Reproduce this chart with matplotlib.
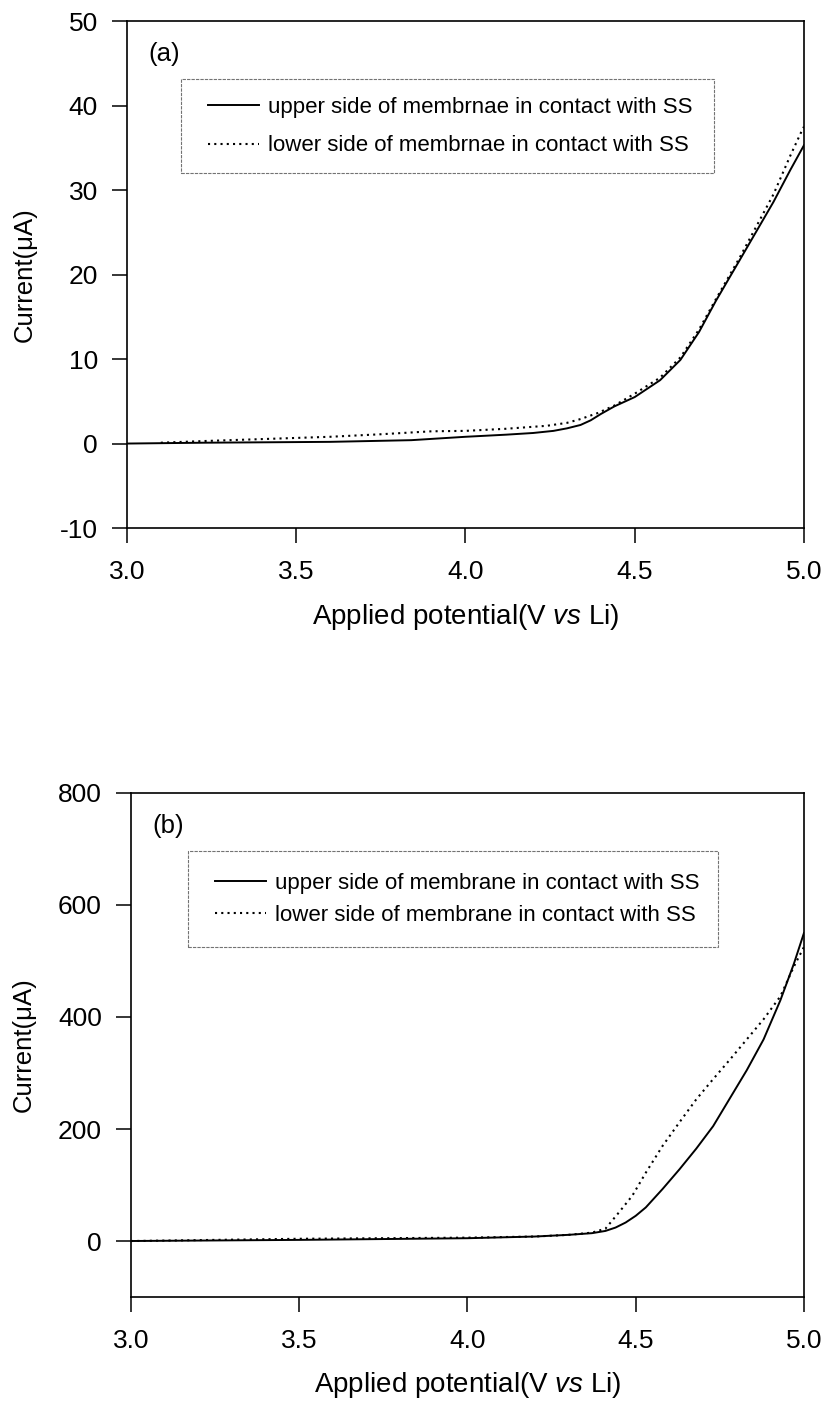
import matplotlib
matplotlib.use('Agg')
from matplotlib import pyplot as plt
from matplotlib.patches import Rectangle

plt.rcParams['font.family'] = ['Liberation Sans', 'DejaVu Sans']
plt.rcParams['mathtext.fontset'] = 'custom'
plt.rcParams['mathtext.rm'] = 'Liberation Sans'
plt.rcParams['mathtext.it'] = 'Liberation Sans:italic'
plt.rcParams['axes.unicode_minus'] = False

# (a) membrane 1, current in uA vs potential in V
v_a_upper = [3.0, 3.23, 3.6, 3.84, 4.0, 4.12, 4.2, 4.26, 4.3, 4.34, 4.37, 4.4, 4.44,
             4.5, 4.575, 4.635, 4.69, 4.74, 4.81, 4.91, 4.96, 5.0]
i_a_upper = [0.0, 0.1, 0.2, 0.4, 0.8, 1.05, 1.25, 1.5, 1.8, 2.2, 2.75, 3.5, 4.4,
             5.5, 7.5, 9.9, 13.2, 16.9, 21.7, 28.6, 32.4, 35.3]
v_a_lower = [3.1, 3.23, 3.6, 3.75, 3.9, 4.0, 4.12, 4.24, 4.3, 4.34, 4.39, 4.44,
             4.5, 4.575, 4.635, 4.69, 4.74, 4.81, 4.91, 4.96, 4.99, 5.0]
i_a_lower = [0.1, 0.3, 0.8, 1.1, 1.45, 1.5, 1.75, 2.1, 2.45, 2.9, 3.6, 4.5,
             5.9, 7.8, 10.2, 13.5, 17.1, 22.0, 29.5, 34.1, 36.7, 37.5]

# (b) membrane 2
v_b_upper = [3.0, 3.5, 4.0, 4.2, 4.3, 4.37, 4.41, 4.44, 4.47, 4.5, 4.53, 4.58,
             4.63, 4.68, 4.73, 4.78, 4.83, 4.88, 4.93, 4.97, 5.0]
i_b_upper = [0, 2, 5, 8, 11, 14, 18, 24, 33, 45, 60, 93,
             128, 165, 205, 255, 305, 360, 430, 495, 550]
v_b_lower = [3.0, 3.5, 4.0, 4.2, 4.3, 4.37, 4.41, 4.45, 4.49, 4.53, 4.58, 4.63,
             4.68, 4.73, 4.78, 4.83, 4.88, 4.93, 4.97, 5.0]
i_b_lower = [0, 4, 6, 8, 11, 15, 22, 51, 81, 122, 170, 212,
             253, 289, 324, 360, 396, 437, 490, 525]

labels_a = ['upper side of membrnae in contact with SS',
            'lower side of membrnae in contact with SS']
labels_b = ['upper side of membrane in contact with SS',
            'lower side of membrane in contact with SS']

xticks = [3.0, 3.5, 4.0, 4.5, 5.0]
yticks_a = [-10, 0, 10, 20, 30, 40, 50]
yticks_b = [0, 200, 400, 600, 800]

fig = plt.figure(figsize=(8.25, 14.04), dpi=100)
ax1 = fig.add_axes([0.1539, 0.6239, 0.8206, 0.3611])
ax2 = fig.add_axes([0.1588, 0.0762, 0.8157, 0.3590])

dot = (0, (1, 2))
panels = [
    (ax1, v_a_upper, i_a_upper, v_a_lower, i_a_lower, labels_a, yticks_a, (-10, 50), '(a)'),
    (ax2, v_b_upper, i_b_upper, v_b_lower, i_b_lower, labels_b, yticks_b, (-100, 800), '(b)'),
]
for ax, vu, iu, vl, il, labs, yt, ylim, tag in panels:
    ax.plot(vu, iu, '-', color='black', lw=1.4, label=labs[0])
    ax.plot(vl, il, color='black', lw=1.5, linestyle=dot, label=labs[1])
    ax.set_xlim(3.0, 5.0)
    ax.set_ylim(*ylim)
    ax.set_xticks(xticks)
    ax.set_xticklabels(['%.1f' % x for x in xticks])
    ax.set_yticks(yt)
    ax.tick_params(direction='out', length=11, width=1.1, labelsize=19)
    ax.tick_params(axis='x', pad=12)
    ax.tick_params(axis='y', pad=10)
    for s in ax.spines.values():
        s.set_linewidth(1.2)
    ax.set_xlabel(r'Applied potential(V $\it{vs}$ Li)', fontsize=20)
    ax.set_ylabel('Current(μA)', fontsize=18.5)
    ax.xaxis.set_label_coords(0.5, -0.145)
    ax.text(0.055, 0.935, tag, transform=ax.transAxes, fontsize=18.5,
            ha='center', va='center')

ax1.yaxis.set_label_coords(-0.134, 0.5)
ax2.yaxis.set_label_coords(-0.141, 0.5)

# legend frames drawn separately so the side padding can be wider than the top
legend_boxes = [
    (ax1, (0.0798, 0.700, 0.787, 0.1856), (0.1196, 0.850), 0.78),
    (ax2, (0.0847, 0.694, 0.787, 0.191), (0.125, 0.841), 0.50),
]
for ax, (bx, by, bw, bh), anchor, spacing in legend_boxes:
    ax.add_patch(Rectangle((bx, by), bw, bh, transform=ax.transAxes,
                           facecolor='white', edgecolor='0.45', lw=0.8,
                           linestyle=(0, (3, 1)), zorder=4))
    leg = ax.legend(loc='upper left', bbox_to_anchor=anchor, borderaxespad=0,
                    borderpad=0, fontsize=16, handlelength=2.3,
                    handletextpad=0.4, labelspacing=spacing, frameon=False)
    leg.set_zorder(5)

fig.savefig('out.png', dpi=100)
